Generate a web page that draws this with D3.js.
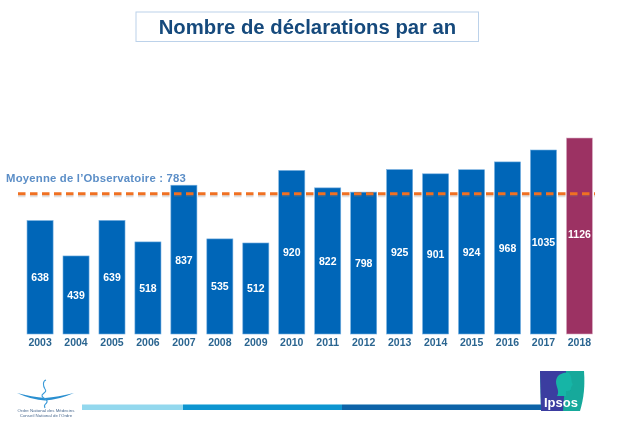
<!DOCTYPE html>
<html><head><meta charset="utf-8">
<script src="https://cdn.jsdelivr.net/npm/d3@7"></script>
<style>html,body{margin:0;padding:0;background:#fff}svg{display:block;font-family:"Liberation Sans",Arial,sans-serif}</style>
</head><body><svg id="c" width="622" height="422"></svg>
<script>
const years=["2003","2004","2005","2006","2007","2008","2009","2010","2011","2012","2013","2014","2015","2016","2017","2018"];
const counts=[638,439,639,518,837,535,512,920,822,798,925,901,924,968,1035,1126];
const average=783;
const titleText="Nombre de déclarations par an";
const averageText="Moyenne de l’Observatoire : 783";
const rampStops=[82,183,342,541];
const rampColors=["#93d8ee","#0a95d0","#0864a8"];

const svg=d3.select("#c");
const defs=svg.append("defs");
defs.append("filter").attr("id","soft").attr("x","-5%").attr("y","-5%").attr("width","110%").attr("height","110%")
  .append("feGaussianBlur").attr("stdDeviation",0.4);
const g=svg.append("g").attr("filter","url(#soft)");

const x=d3.scaleBand().domain(years).range([22,597.5]).paddingInner(0.275).paddingOuter(0.14);
// piecewise: the last column is drawn slightly shorter than the common scale in the source
const y=d3.scaleLinear().domain([0,1035,1126]).range([334,150,138]);

// title box
g.append("rect").attr("x",136).attr("y",12).attr("width",342.5).attr("height",29.5)
  .attr("fill","#fff").attr("stroke","#bcd2ea").attr("stroke-width",1);
g.append("text").attr("x",307.5).attr("y",34).attr("text-anchor","middle")
  .attr("font-size",20.3).attr("font-weight",700).attr("fill","#144a7c").text(titleText);

// bars
const data=years.map((d,i)=>({year:d,value:counts[i]}));
g.selectAll("rect.bar").data(data).join("rect").attr("class","bar")
  .attr("x",d=>x(d.year)).attr("width",x.bandwidth())
  .attr("y",d=>y(d.value)).attr("height",d=>y(0)-y(d.value))
  .attr("fill",d=>d.year==="2018"?"#9c3063":"#0066b8")
  .attr("stroke",d=>d.year==="2018"?"#d9b3c6":"#74afe0").attr("stroke-width",0.6);

// average line + shadow
const avgY=y(average);
const dash="7.5 4.5";
g.append("line").attr("x1",18).attr("x2",595).attr("y1",avgY+1.2).attr("y2",avgY+1.2)
  .attr("stroke","#777").attr("stroke-opacity",.22).attr("stroke-width",2.4).attr("stroke-dasharray",dash);
g.append("line").attr("x1",18).attr("x2",595).attr("y1",avgY-1).attr("y2",avgY-1)
  .attr("stroke","#f07020").attr("stroke-width",3).attr("stroke-dasharray",dash);

// value labels
g.selectAll("text.val").data(data).join("text").attr("class","val")
  .attr("x",d=>x(d.year)+x.bandwidth()/2)
  .attr("y",d=>d.year==="2018"?238:(y(d.value)+y(0))/2+4)
  .attr("text-anchor","middle").attr("font-size",10.5).attr("font-weight",700).attr("fill","#fff")
  .text(d=>d.value);

// axis labels
const axis=d3.axisBottom(x).tickSize(0).tickPadding(5);
const ax=g.append("g").attr("transform","translate(0,334)").call(axis);
ax.select(".domain").remove();
ax.selectAll("text").attr("font-family","inherit").attr("font-size",10.5).attr("font-weight",700).attr("fill","#2b6590");

// average caption
g.append("text").attr("x",6).attr("y",181.5).attr("font-size",11.3).attr("font-weight",700).attr("letter-spacing",0.22)
  .attr("fill","#5b8ec7").text(averageText);

// footer ramp
rampColors.forEach((c,i)=>g.append("rect").attr("x",rampStops[i]).attr("y",404.5)
  .attr("width",rampStops[i+1]-rampStops[i]).attr("height",5.5).attr("fill",c));

// left logo
const logo=g.append("g");
logo.append("path").attr("d","M17 393 Q32 397 45 398 Q58 397 74 393 Q58 400 45 400.5 Q32 400 17 393Z").attr("fill","#2a8fd0");
logo.append("path").attr("d","M46 380 C42.5 381 43 386 45 389 C48 393 41 393 42 396 C43 399 48 399 47 402 C46 405 43 404 45 408")
  .attr("fill","none").attr("stroke","#3a9ad8").attr("stroke-width",1.1);
logo.append("text").attr("x",46).attr("y",412).attr("text-anchor","middle").attr("font-size",4.4).attr("fill","#4a6a90").text("Ordre National des Médecins");
logo.append("text").attr("x",46).attr("y",417).attr("text-anchor","middle").attr("font-size",4.4).attr("fill","#4a6a90").text("Conseil National de l’Ordre");

// Ipsos logo
const ip=g.append("g");
ip.append("path").attr("d","M540 371 L584 371 C585 385 584 398 580 411 L541 411 Z").attr("fill","#12a99b");
ip.append("path").attr("d","M540 371 L566 371 L563 411 L541 411 Z").attr("fill","#3a3ea0");
ip.append("path").attr("d","M556 382 C556 374 564 372 569 373 C572 376 571 380 572 383 C574 385 571 386 571 388 C571 391 568 391 566 391 L566 396 L557 396 C560 391 556 387 556 382Z").attr("fill","#19b5a6");
ip.append("text").attr("x",544).attr("y",407).attr("font-size",13).attr("font-weight",700).attr("fill","#fff").text("Ipsos");
</script></body></html>
